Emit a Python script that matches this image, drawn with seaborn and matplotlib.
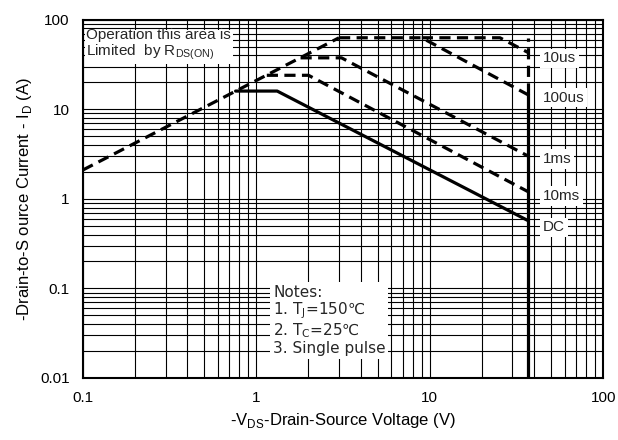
import seaborn as sns
import matplotlib.pyplot as plt
import pandas as pd

# safe operating area curves
rds_v = [0.1, 3.0]
rds_i = [2.1, 63]
dc_v = [0.76, 1.32, 37]
dc_i = [16, 16, 0.57]
ms10_v = [1.15, 2.0, 37]
ms10_i = [24, 24, 1.2]
ms1_v = [1.8, 3.1, 37]
ms1_i = [37.6, 37.6, 3.0]
us100_v = [3.0, 9.0, 37]
us100_i = [63, 63, 14.5]
us10_v = [9.0, 25.4, 37]
us10_i = [63, 63, 43]
vert_v = [37, 37]
vert_solid_i = [0.01, 15]
vert_dash_i = [15, 63]

labels = ["10us", "100us", "1ms", "10ms", "DC"]
label_y = [37, 13.5, 2.8, 1.08, 0.48]

sns.set_theme(style="white")
plt.rcParams["font.family"] = ["Liberation Sans", "DejaVu Sans"]

fig = plt.figure(figsize=(6.18, 4.4), dpi=100)
ax = fig.add_axes([0.134, 0.141, 0.842, 0.814])

dash = (0, (3.5, 2))
for v, i, ls in [
    (rds_v, rds_i, dash),
    (dc_v, dc_i, "-"),
    (ms10_v, ms10_i, dash),
    (ms1_v, ms1_i, dash),
    (us100_v, us100_i, dash),
    (us10_v, us10_i, dash),
    (vert_v, vert_solid_i, "-"),
    (vert_v, vert_dash_i, dash),
]:
    sns.lineplot(x=v, y=i, ax=ax, color="black", lw=2.3, linestyle=ls,
                 sort=False, estimator=None)

ax.set_xscale("log")
ax.set_yscale("log")
ax.set_xlim(0.1, 100)
ax.set_ylim(0.01, 100)
ax.grid(True, which="both", color="black", lw=0.8)
for s in ax.spines.values():
    s.set_color("black")
    s.set_linewidth(1.5)
ax.set_xticks([0.1, 1, 10, 100])
ax.set_xticklabels(["0.1", "1", "10", "100"])
ax.set_yticks([0.01, 0.1, 1, 10, 100])
ax.set_yticklabels(["0.01", "0.1", "1", "10", "100"])
ax.tick_params(labelsize=11, colors="black")

for t, y in zip(labels, label_y):
    ax.text(45, y, t, fontsize=11, va="center", ha="left",
            bbox=dict(facecolor="white", edgecolor="none", pad=2))

ax.text(0.105, 82, "Operation this area is\nLimited  by R$_{\\mathregular{DS(ON)}}$",
        fontsize=11, va="top", ha="left", linespacing=1.1,
        bbox=dict(facecolor="white", edgecolor="none", pad=1))
ax.text(1.25, 0.11, "Notes:\n1. T$_{\\mathregular{J}}$=150\u2103\n2. T$_{\\mathregular{C}}$=25\u2103\n3. Single pulse",
        fontsize=11, va="top", ha="left", linespacing=1.05, family=["DejaVu Sans"],
        bbox=dict(facecolor="white", edgecolor="none", pad=2))

ax.set_xlabel("-V$_{\\mathregular{DS}}$-Drain-Source Voltage (V)", fontsize=12, color="black")
ax.set_ylabel("-Drain-to-S ource Current - I$_{\\mathregular{D}}$ (A)", fontsize=12, color="black")

fig.savefig("out.png", dpi=100)
